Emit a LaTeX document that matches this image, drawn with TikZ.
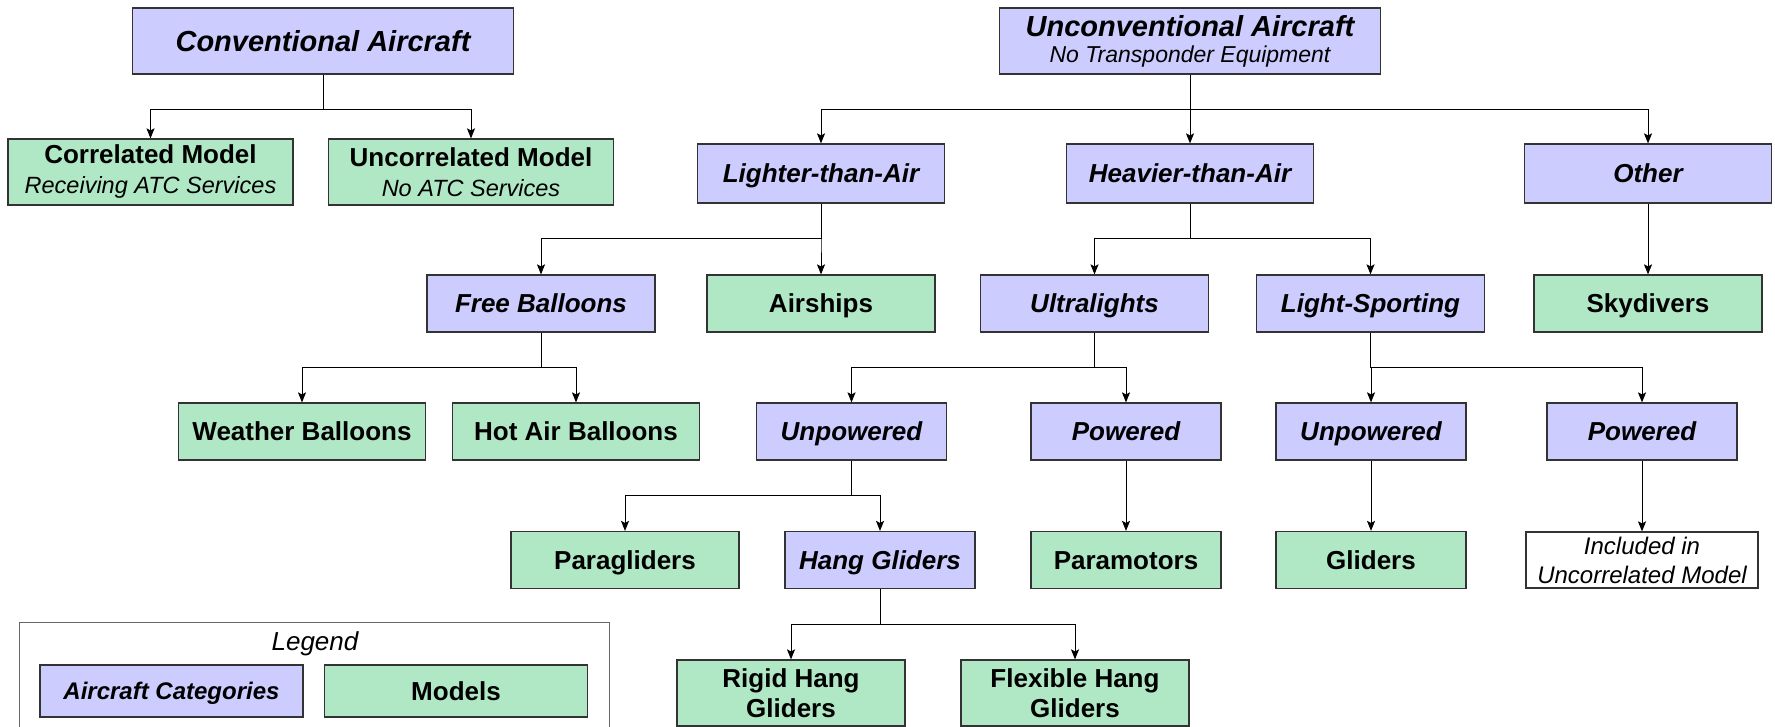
\documentclass[tikz,border=0pt]{standalone}
\usepackage{fontspec}
\setmainfont{Liberation Sans}
\usetikzlibrary{arrows.meta}
\definecolor{catfill}{RGB}{204,204,255}
\definecolor{mdlfill}{RGB}{176,232,198}
\newcommand\subline[1]{{\fontsize{23.5}{30}\selectfont\mdseries\itshape #1}}

\begin{document}
\begin{tikzpicture}[x=1pt, y=-1pt,
every node/.style={draw=black!80, line width=1.2pt, inner sep=0pt, align=center,
  minimum width=228pt, minimum height=57pt},
head/.style={fill=catfill, minimum width=381pt, minimum height=66pt,
  font=\fontsize{29}{26}\selectfont\bfseries\itshape},
cat/.style={fill=catfill, text height=18.6pt, text depth=0pt,
  font=\fontsize{26}{30}\selectfont\bfseries\itshape},
mdl/.style={fill=mdlfill, text height=18.6pt, text depth=0pt,
  font=\fontsize{26}{30}\selectfont\bfseries},
two/.style={text height=, text depth=},
note/.style={fill=white, font=\fontsize{24}{29}\selectfont\itshape},
arr/.style={line width=1pt, -{Stealth[length=10pt, width=8pt, inset=2pt]}}]
\useasboundingbox (0,0) rectangle (1775,727);
\clip (0,0) rectangle (1775,727);

% top level
\node[head, text height=20.8pt] (conv) at (323,41) {Conventional Aircraft};
\node[head] (unconv) at (1190,41)
  {Unconventional Aircraft\\{\fontsize{23}{26}\selectfont\mdseries\itshape No Transponder Equipment}};

\node[mdl, two, minimum width=285pt, minimum height=66pt] (corr) at (150.5,172)
  {Correlated Model\\\subline{Receiving ATC Services}};
\node[mdl, two, minimum width=285pt, minimum height=66pt] (uncorr) at (471,172)
  {Uncorrelated Model\\\subline{No ATC Services}};

\node[cat, minimum width=247pt, minimum height=59pt] (lighter) at (821,173.5) {Lighter-than-Air};
\node[cat, minimum width=247pt, minimum height=59pt] (heavier) at (1190,173.5) {Heavier-than-Air};
\node[cat, minimum width=247pt, minimum height=59pt] (other) at (1648,173.5) {Other};

% second level
\node[cat] (free) at (541,303.5) {Free Balloons};
\node[mdl] (airships) at (821,303.5) {Airships};
\node[cat] (ultra) at (1094.5,303.5) {Ultralights};
\node[cat] (lightsp) at (1370.5,303.5) {Light-Sporting};
\node[mdl] (sky) at (1648,303.5) {Skydivers};

\node[mdl, minimum width=247pt] (weather) at (302,431.5) {Weather Balloons};
\node[mdl, minimum width=247pt] (hotair) at (576,431.5) {Hot Air Balloons};
\node[cat, minimum width=190pt] (unpul) at (851.5,431.5) {Unpowered};
\node[cat, minimum width=190pt] (powul) at (1126,431.5) {Powered};
\node[cat, minimum width=190pt] (unpls) at (1371,431.5) {Unpowered};
\node[cat, minimum width=190pt] (powls) at (1642,431.5) {Powered};

\node[mdl] (para) at (625,560) {Paragliders};
\node[cat, minimum width=190pt] (hang) at (880,560) {Hang Gliders};
\node[mdl, minimum width=190pt] (paramot) at (1126,560) {Paramotors};
\node[mdl, minimum width=190pt] (gliders) at (1371,560) {Gliders};
\node[note, minimum width=232pt, minimum height=56pt] (incl) at (1642,560)
  {Included in\\Uncorrelated Model};

\node[mdl, two, minimum height=66pt] (rigid) at (791,693) {Rigid Hang\\Gliders};
\node[mdl, two, minimum height=66pt] (flex) at (1075,693) {Flexible Hang\\Gliders};

% connectors
\foreach \p/\c in {conv/corr, conv/uncorr, unconv/lighter, unconv/heavier, unconv/other,
  lighter/free, lighter/airships, heavier/ultra, heavier/lightsp, other/sky,
  free/weather, free/hotair, ultra/unpul, ultra/powul, lightsp/unpls, lightsp/powls,
  unpul/para, unpul/hang, powul/paramot, unpls/gliders, powls/incl, hang/rigid, hang/flex}
  \draw[arr] (\p.south) -- ++(0,35) -| (\c.north);

% legend
\node[draw=black!60, line width=0.8pt, minimum width=590pt, minimum height=150pt] (leg) at (314,697) {};
\node[draw=none, minimum width=0pt, minimum height=0pt, text height=18.6pt, text depth=0pt,
  font=\fontsize{26}{30}\selectfont\itshape] (legtxt) at (315,641) {Legend};
\node[cat, minimum width=263pt, minimum height=52pt, text height=17.2pt] (legcat) at (171.5,691)
  {\fontsize{24}{28}\selectfont Aircraft Categories};
\node[mdl, minimum width=263pt, minimum height=52pt] (legmdl) at (456,691) {Models};
\end{tikzpicture}
\end{document}
